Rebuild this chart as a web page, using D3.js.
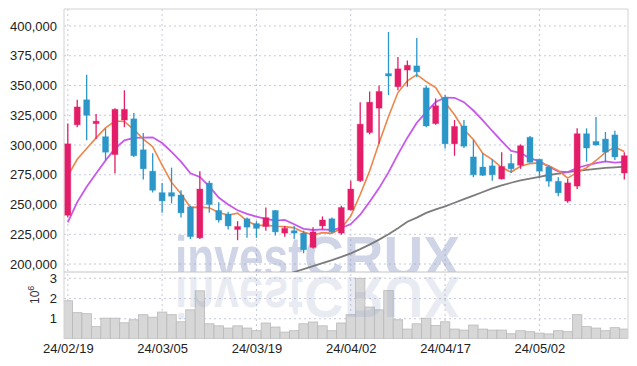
<!DOCTYPE html>
<html>
<head>
<meta charset="utf-8">
<script src="https://cdn.jsdelivr.net/npm/d3@7"></script>
<style>
  body { margin: 0; background: #fff; }
  text { font-family: "Liberation Sans", Arial, sans-serif; }
</style>
</head>
<body>
<div id="chart"></div>
<script>
/* CANDLESTICK + VOLUME */

// trading days (yy/mm/dd)
var dates = ["24/02/19","24/02/20","24/02/21","24/02/22","24/02/23","24/02/26","24/02/27","24/02/28","24/02/29",
  "24/03/04","24/03/05","24/03/06","24/03/07","24/03/08","24/03/11","24/03/12","24/03/13","24/03/14","24/03/15",
  "24/03/18","24/03/19","24/03/20","24/03/21","24/03/22","24/03/25","24/03/26","24/03/27","24/03/28","24/03/29",
  "24/04/01","24/04/02","24/04/03","24/04/04","24/04/05","24/04/08","24/04/09","24/04/11","24/04/12","24/04/15",
  "24/04/16","24/04/17","24/04/18","24/04/19","24/04/22","24/04/23","24/04/24","24/04/25","24/04/26","24/04/29",
  "24/04/30","24/05/02","24/05/03","24/05/07","24/05/08","24/05/09","24/05/10","24/05/13","24/05/14","24/05/16","24/05/17"];

var opens = [241000,317000,338000,318000,307000,292000,321000,322000,296000,278000,
  260000,260000,258000,248000,222000,268000,245000,242000,229000,238000,
  234000,231500,245000,226000,228000,226000,214000,232000,238000,226000,
  245500,270000,310500,331000,360000,349000,363000,366500,348000,318000,
  340000,301000,316000,290000,281500,282500,271500,284500,283000,306500,
  288000,281500,269500,253000,265500,309500,303000,305000,308500,276500];
var highs = [318000,338000,359000,326000,314000,331000,346000,327000,310000,293000,
  268000,281000,262000,249000,278000,270000,252000,244000,236000,239000,
  236000,247500,245500,232000,232000,228000,231000,240000,239000,249000,
  270000,336000,345000,350000,395000,374000,371000,390000,350000,339000,
  342000,321000,321000,304500,293000,288000,294000,292500,300500,307500,
  288500,283000,273000,271500,314000,314000,323500,311000,312000,294000];
var lows = [239000,315000,304000,305000,287000,276000,315000,290000,271000,260000,
  243000,251000,239000,221000,221000,243000,235000,229000,220000,222000,
  222000,228000,224000,223000,221000,209000,213000,229000,226000,224500,
  245000,269000,309000,301000,342000,346000,349000,357000,315000,317000,
  297000,291000,297500,273000,274000,270000,271000,276500,280000,285000,
  272000,265000,257000,251500,263000,286000,299500,285500,287500,271000];
var closes = [301000,332000,325000,320000,294000,330000,330000,291000,280000,262000,
  253000,257000,243000,223000,263000,250000,237000,232000,231500,231000,
  230000,239000,227000,230000,226000,212000,227000,237000,227000,247500,
  263000,317500,336000,345000,358000,364000,367000,361500,316000,333000,
  301000,315600,299000,275000,274600,275000,282000,280000,299400,285500,
  278000,269600,259800,268200,309500,297500,300000,294000,290000,291000];

// volume, in millions of shares
var volumes = [1.89,1.30,1.25,0.61,1.03,1.03,0.80,0.95,1.20,1.08,
  1.33,1.20,0.85,1.44,2.38,0.75,0.65,0.54,0.65,0.54,
  0.41,0.79,0.59,0.34,0.41,0.75,0.84,0.65,0.41,0.79,
  1.20,3.00,1.58,1.44,2.39,0.95,0.49,0.75,1.03,0.67,
  0.85,0.49,0.44,0.69,0.49,0.44,0.44,0.26,0.41,0.36,
  0.29,0.25,0.41,0.36,1.20,0.61,0.54,0.41,0.56,0.49];

// moving averages
var ma5 = [274000,288000,297000,306000,314400,320200,319800,313000,305000,298600,
  283200,268600,259000,247600,247800,247200,243200,241000,242700,236300,
  232300,232700,231700,231400,230400,226800,224400,226400,225800,230100,
  240300,258400,278200,301800,323900,344100,354000,359100,353300,348300,
  335700,325400,312900,304700,293000,287800,281100,277300,282200,284400,
  285000,282500,278500,272200,277000,280900,287000,293800,298200,294500];
var ma10 = [235000,252000,265000,276000,287000,297000,304000,306000,306300,306500,
  301700,294200,286000,276300,273200,265200,255900,250000,245200,242100,
  239800,238000,236400,237100,233400,229600,228600,229100,228600,230300,
  233600,241400,252300,263800,277000,292200,306200,318700,327600,336100,
  339900,339700,336000,329000,320700,311800,303300,295100,293500,288700,
  286400,281800,277900,277200,280700,283000,284800,286200,285200,285800];
var maLong = [null,null,null,null,null,null,null,null,null,null,
  null,null,null,null,null,null,null,null,null,null,
  null,null,188000,190500,193300,195800,198300,200800,203300,206000,
  209000,212500,216300,220500,225000,230000,235500,239000,243000,246000,
  248500,251500,254500,257500,260500,263500,266000,268300,270200,271800,
  273300,274800,276000,277200,278300,279200,280000,280800,281300,281800];

var priceTicks = [200000,225000,250000,275000,300000,325000,350000,375000,400000];
var volTicks = [1, 2, 3];
var dateTicks = ["24/02/19","24/03/05","24/03/19","24/04/02","24/04/17","24/05/02"];

// layout
var width = 637, height = 366;
var pLeft = 64, pRight = 628, pTop = 9, pSplit = 272, pBottom = 339;

var svg = d3.select("#chart")
  .append("svg")
    .attr("width", width)
    .attr("height", height);

var defs = svg.append("defs");
defs.append("clipPath").attr("id", "clipMain")
  .append("rect").attr("x", pLeft).attr("y", pTop).attr("width", pRight - pLeft).attr("height", pSplit - pTop);
defs.append("clipPath").attr("id", "clipVol")
  .append("rect").attr("x", pLeft).attr("y", pSplit).attr("width", pRight - pLeft).attr("height", pBottom - pSplit);

// scales
var x = d3.scalePoint()
  .domain(dates)
  .range([67.8, 624.3]);
var step = x.step();

var y = d3.scaleLinear()
  .domain([193300, 414300])
  .range([pSplit, pTop]);

var yv = d3.scaleLinear()
  .domain([0, 3.31])
  .range([pBottom, pSplit]);

var gridColor = "#c6c9da";

// horizontal grid, price panel
svg.append("g").selectAll("line")
  .data(priceTicks)
  .enter().append("line")
    .attr("x1", pLeft).attr("x2", pRight)
    .attr("y1", function(d) { return y(d); })
    .attr("y2", function(d) { return y(d); })
    .attr("stroke", gridColor)
    .attr("stroke-dasharray", "2,3");

// horizontal grid, volume panel
svg.append("g").selectAll("line")
  .data(volTicks)
  .enter().append("line")
    .attr("x1", pLeft).attr("x2", pRight)
    .attr("y1", function(d) { return yv(d); })
    .attr("y2", function(d) { return yv(d); })
    .attr("stroke", gridColor)
    .attr("stroke-dasharray", "2,3");

// vertical grid
svg.append("g").selectAll("line")
  .data(dateTicks)
  .enter().append("line")
    .attr("x1", function(d) { return x(d); })
    .attr("x2", function(d) { return x(d); })
    .attr("y1", pTop).attr("y2", pBottom)
    .attr("stroke", gridColor)
    .attr("stroke-dasharray", "2,3");

// volume bars
svg.append("g")
  .attr("clip-path", "url(#clipVol)")
  .selectAll("rect")
  .data(volumes)
  .enter().append("rect")
    .attr("x", function(d, i) { return x(dates[i]) - step / 2; })
    .attr("y", function(d) { return yv(d); })
    .attr("width", step)
    .attr("height", function(d) { return yv(0) - yv(d); })
    .attr("fill", "#d7d7d7")
    .attr("stroke", "#b9b9b9")
    .attr("stroke-width", 0.8);

// watermark + reflection
function mark(g, op) {
  g.append("text")
    .attr("x", 175).attr("y", 277)
    .attr("textLength", 128).attr("lengthAdjust", "spacingAndGlyphs")
    .attr("font-size", 58).attr("font-weight", "bold")
    .attr("fill", "rgb(140,152,196)").attr("fill-opacity", op)
    .text("invest");
  g.append("text")
    .attr("x", 304).attr("y", 277)
    .attr("textLength", 156).attr("lengthAdjust", "spacingAndGlyphs")
    .attr("font-size", 58).attr("font-weight", "bold")
    .attr("fill", "rgb(140,152,196)").attr("fill-opacity", op)
    .text("CRUX");
}
mark(svg.append("g").attr("clip-path", "url(#clipMain)"), 0.42);
mark(svg.append("g").attr("clip-path", "url(#clipVol)")
  .append("g").attr("transform", "translate(0,554) scale(1,-1)"), 0.2);

// frame
var frame = svg.append("g").attr("stroke", "#d2d2d2").attr("fill", "none");
frame.append("line").attr("x1", pLeft).attr("x2", pRight).attr("y1", pTop).attr("y2", pTop);
frame.append("line").attr("x1", pLeft).attr("x2", pLeft).attr("y1", pTop).attr("y2", pBottom);
frame.append("line").attr("x1", pRight).attr("x2", pRight).attr("y1", pTop).attr("y2", pBottom);
frame.append("line").attr("x1", pLeft).attr("x2", pRight).attr("y1", pSplit).attr("y2", pSplit).attr("stroke", "#c4c4c4");

// moving average lines
var plot = svg.append("g").attr("clip-path", "url(#clipMain)");
function maLine(values, color, w) {
  var line = d3.line()
    .defined(function(d) { return d != null; })
    .x(function(d, i) { return x(dates[i]); })
    .y(function(d) { return y(d); });
  plot.append("path")
    .datum(values)
    .attr("d", line)
    .attr("fill", "none")
    .attr("stroke", color)
    .attr("stroke-width", w);
}
maLine(maLong, "#7c7c7c", 1.8);
maLine(ma10, "#c857ec", 1.8);
maLine(ma5, "#ef8548", 1.6);

// candles
var up = "#e41d68", down = "#2b96c8";
var candles = plot.selectAll("g.candle")
  .data(dates)
  .enter().append("g")
    .attr("class", "candle");

candles.append("line")
  .attr("x1", function(d) { return x(d); })
  .attr("x2", function(d) { return x(d); })
  .attr("y1", function(d, i) { return y(highs[i]); })
  .attr("y2", function(d, i) { return y(lows[i]); })
  .attr("stroke", function(d, i) { return closes[i] >= opens[i] ? up : down; })
  .attr("stroke-width", 1.3);

candles.append("rect")
  .attr("x", function(d) { return x(d) - 3; })
  .attr("width", 6)
  .attr("y", function(d, i) { return y(Math.max(opens[i], closes[i])); })
  .attr("height", function(d, i) { return Math.max(1.5, Math.abs(y(opens[i]) - y(closes[i]))); })
  .attr("fill", function(d, i) { return closes[i] >= opens[i] ? up : down; })
  .attr("stroke", function(d, i) { return closes[i] >= opens[i] ? up : down; })
  .attr("stroke-opacity", 0.35)
  .attr("stroke-width", 1);

// axes
var yAxis = svg.append("g")
  .attr("transform", "translate(" + pLeft + ",0)")
  .call(d3.axisLeft(y).tickValues(priceTicks).tickFormat(d3.format(",")).tickSize(0).tickPadding(7));

var vAxis = svg.append("g")
  .attr("transform", "translate(" + pLeft + ",0)")
  .call(d3.axisLeft(yv).tickValues(volTicks).tickFormat(d3.format("d")).tickSize(0).tickPadding(7));

var xAxis = svg.append("g")
  .attr("transform", "translate(0," + pBottom + ")")
  .call(d3.axisBottom(x).tickValues(dateTicks).tickSize(0).tickPadding(5));

[yAxis, vAxis, xAxis].forEach(function(a) {
  a.select(".domain").remove();
  a.selectAll("text")
    .attr("font-size", 13)
    .attr("fill", "#222")
    .style("font-family", "'Liberation Sans', Arial, sans-serif");
});

// volume unit label
var unit = svg.append("text")
  .attr("transform", "translate(39,304) rotate(-90)")
  .attr("font-size", 12)
  .attr("fill", "#333");
unit.append("tspan").text("10");
unit.append("tspan").attr("dy", -5).attr("font-size", 9).text("6");
</script>
</body>
</html>
